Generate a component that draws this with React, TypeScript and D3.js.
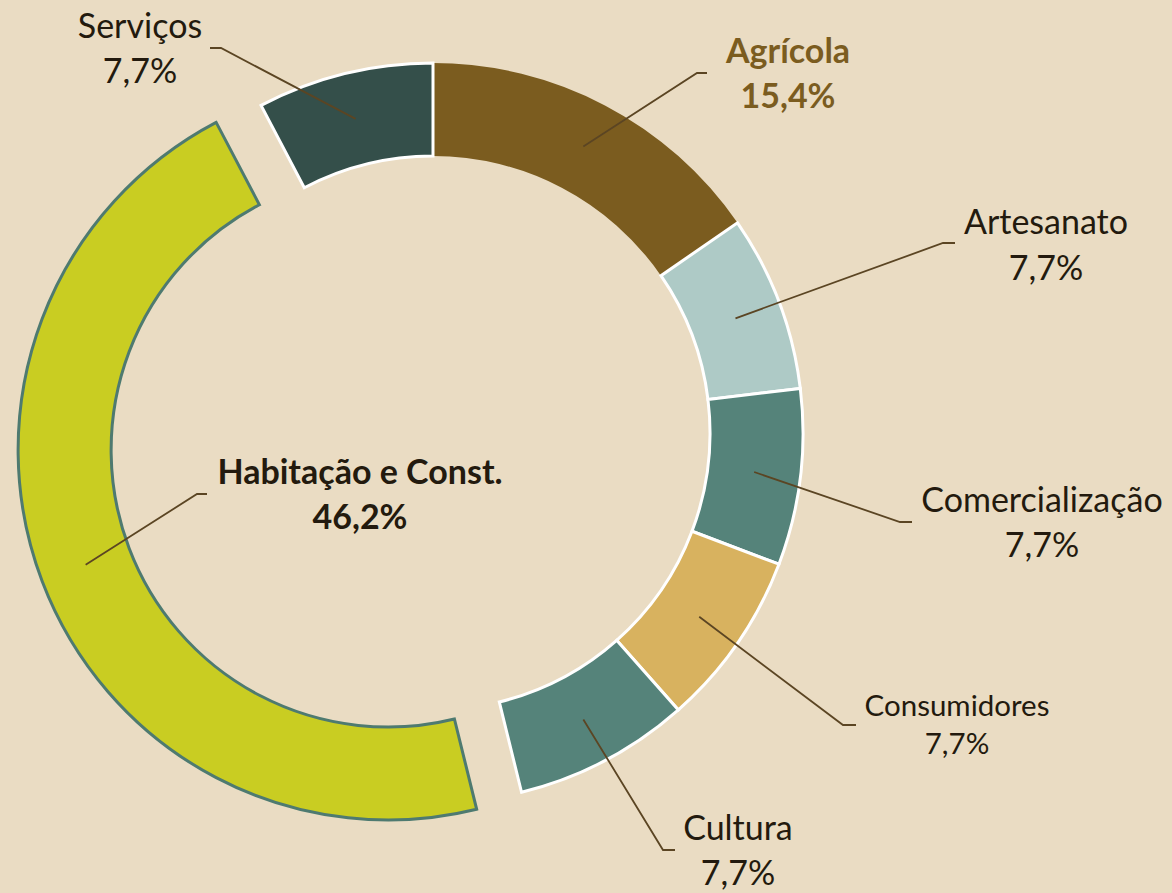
import React, { useRef, useEffect } from "react";
import * as d3 from "d3";

const categories = [
  "Agrícola",
  "Artesanato",
  "Comercialização",
  "Consumidores",
  "Cultura",
  "Habitação e Const.",
  "Serviços",
];
const shares = [15.4, 7.7, 7.7, 7.7, 7.7, 46.2, 7.7];
const fills = ["#7b5c1f", "#aecac6", "#55837a", "#d8b25f", "#55837a", "#c9cd22", "#344f4a"];
const exploded = ["Habitação e Const."];

// label layout: text centre x, first baseline, line gap, elbow + end of leader
const labelPos = [
  { x: 788, y: 63, gap: 45, elbow: [697, 73], end: [707, 73], size: 34, bold: true, color: "#7b5c1f" },
  { x: 1046, y: 234, gap: 46, elbow: [943, 243], end: [955, 243], size: 34 },
  { x: 1042, y: 512, gap: 45, elbow: [900, 522], end: [912, 522], size: 34 },
  { x: 957, y: 716, gap: 38, elbow: [843, 725], end: [856, 725], size: 29.5 },
  { x: 738, y: 840, gap: 45, elbow: [663, 850], end: [675, 850], size: 34 },
  { x: 360, y: 484, gap: 45, elbow: [197, 494], end: [207, 494], size: 34, bold: true },
  { x: 140, y: 38, gap: 45, elbow: [221, 48], end: [210, 48], size: 34 },
];

const W = 1172;
const H = 893;

const DonutChart = () => {
  const svgRef = useRef<SVGSVGElement>(null);

  useEffect(() => {
    const svg = d3.select(svgRef.current);
    const cx = 433;
    const cy = 433;
    const outerR = 370;
    const innerR = 277;
    const explodeBy = 48;

    svg.append("rect").attr("width", W).attr("height", H).attr("fill", "#eadcc3");

    const data = categories.map((c, i) => ({ name: c, value: shares[i], fill: fills[i] }));
    const pie = d3
      .pie<any>()
      .sort(null)
      .value((d) => d.value);
    const arcs = pie(data);
    const arc = d3.arc<any>().innerRadius(innerR).outerRadius(outerR);

    const offsetOf = (a: any) => {
      if (!exploded.includes(a.data.name)) return [0, 0];
      const mid = (a.startAngle + a.endAngle) / 2;
      return [Math.sin(mid) * explodeBy, -Math.cos(mid) * explodeBy];
    };

    const g = svg.append("g").attr("transform", `translate(${cx},${cy})`);

    g.selectAll("path.slice")
      .data(arcs)
      .enter()
      .append("path")
      .attr("class", "slice")
      .attr("d", arc)
      .attr("transform", (d) => {
        const [dx, dy] = offsetOf(d);
        return `translate(${dx},${dy})`;
      })
      .attr("fill", (d) => d.data.fill)
      .attr("stroke", (d) =>
        exploded.includes(d.data.name) ? "#4e7a70" : d.data.name === "Agrícola" ? "none" : "#ffffff"
      )
      .attr("stroke-width", 3)
      .attr("stroke-linejoin", "miter");

    // leader lines
    arcs.forEach((a, i) => {
      const [dx, dy] = offsetOf(a);
      const [px, py] = arc.centroid(a);
      const lp = labelPos[i];
      const pts: [number, number][] = [
        [cx + px + dx, cy + py + dy],
        lp.elbow as [number, number],
        lp.end as [number, number],
      ];
      svg
        .append("path")
        .attr("d", d3.line()(pts))
        .attr("fill", "none")
        .attr("stroke", "#5b4523")
        .attr("stroke-width", 1.8);
    });

    // labels
    arcs.forEach((a, i) => {
      const lp = labelPos[i];
      const t = svg
        .append("text")
        .attr("text-anchor", "middle")
        .style("font-family", "Lato, 'Open Sans', sans-serif")
        .style("font-size", `${lp.size}px`)
        .style("font-weight", lp.bold ? "bold" : "normal")
        .attr("fill", lp.color || "#231a0e");
      t.append("tspan").attr("x", lp.x).attr("y", lp.y).text(a.data.name);
      t.append("tspan")
        .attr("x", lp.x)
        .attr("y", lp.y + lp.gap)
        .text(`${d3.format(".1f")(a.data.value).replace(".", ",")}%`);
    });

    return () => {
      svg.selectAll("*").remove();
    };
  }, []);

  return (
    <svg
      ref={svgRef}
      width={W}
      height={H}
      style={{ position: "absolute", left: 0, top: 0, display: "block" }}
    ></svg>
  );
};

export default function App() {
  return <DonutChart />;
}
